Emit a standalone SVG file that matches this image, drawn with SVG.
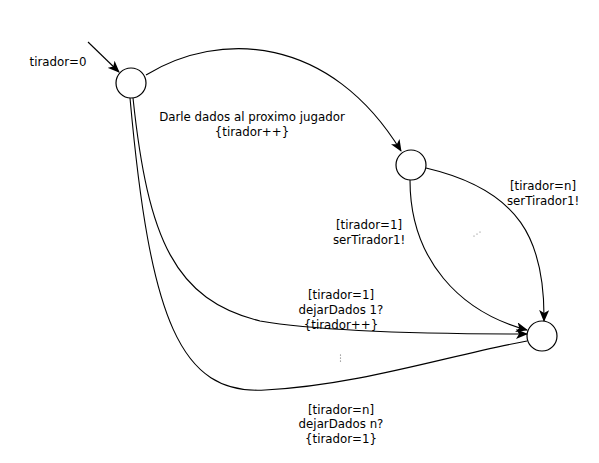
<svg xmlns="http://www.w3.org/2000/svg" width="599" height="463" viewBox="0 0 599 463">
<style>
.n{fill:#fff;stroke:#000;stroke-width:1.2}
.e{fill:none;stroke:#000;stroke-width:1.1}
.d{fill:#555}
text{font-family:"DejaVu Sans",sans-serif;font-size:11.8px;fill:#000;text-anchor:middle}
</style>
<defs>
<marker id="a" markerWidth="12" markerHeight="10" refX="11" refY="5" orient="auto" markerUnits="userSpaceOnUse">
<path d="M0,0 L12,5 L0,10 L3,5 Z" fill="#000"/>
</marker>
</defs>
<rect width="599" height="463" fill="#fff"/>
<g id="connectors">
<path class="e" d="M88,42 L119,72" marker-end="url(#a)"/>
<path class="e" d="M146,75 C220,30 330,35 401,151" marker-end="url(#a)"/>
<path class="e" d="M426,168 C520,190 545,240 544,321" marker-end="url(#a)"/>
<path class="e" d="M410,180 C410,260 460,312 527,330" marker-end="url(#a)"/>
<path class="e" d="M133,98 C148,240 175,300 260,321 C330,333 450,334 527,334" marker-end="url(#a)"/>
<path class="e" d="M130,98 C150,320 180,395 265,390 C360,385 450,355 527,341"/>
</g>
<g id="node1"><circle class="n" cx="131" cy="83" r="15"/></g>
<g id="node2"><circle class="n" cx="411" cy="165" r="15"/></g>
<g id="node3"><circle class="n" cx="542" cy="336" r="15"/></g>
<g id="labels">
<text x="58" y="66">tirador=0</text>
<text x="252" y="121">Darle dados al proximo jugador</text>
<text x="252" y="136">{tirador++}</text>
<text x="543" y="190">[tirador=n]</text>
<text x="543" y="205">serTirador1!</text>
<text x="369" y="229">[tirador=1]</text>
<text x="369" y="244">serTirador1!</text>
<text x="341" y="299">[tirador=1]</text>
<text x="341" y="314">dejarDados 1?</text>
<text x="341" y="329">{tirador++}</text>
<text x="341" y="414">[tirador=n]</text>
<text x="341" y="428">dejarDados n?</text>
<text x="341" y="443">{tirador=1}</text>
</g>
<g id="dots">
<circle class="d" cx="474" cy="236" r="0.5"/>
<circle class="d" cx="477" cy="234" r="0.5"/>
<circle class="d" cx="480" cy="232" r="0.5"/>
<circle class="d" cx="340.5" cy="355" r="0.6"/>
<circle class="d" cx="340.5" cy="358" r="0.6"/>
<circle class="d" cx="340.5" cy="361" r="0.6"/>
</g>
</svg>
